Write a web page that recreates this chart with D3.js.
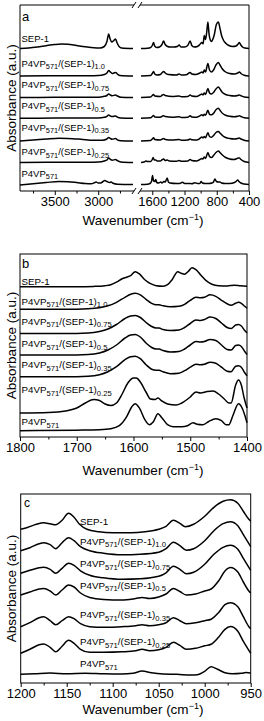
<!DOCTYPE html>
<html><head><meta charset="utf-8">
<script src="https://cdn.jsdelivr.net/npm/d3@7"></script>
<style>
html,body{margin:0;padding:0;background:#fff;}
svg{display:block;font-family:"Liberation Sans",Arial,Helvetica,sans-serif;}
</style>
</head><body><div id="chart"></div>
<script>
// ---------------- DATA ----------------
const seriesRatios = ["SEP-1", "1.0", "0.75", "0.5", "0.35", "0.25", "P4VP"];

// Panel a: vertical stacking offsets (a.u.)
const aOffsets = [142.5, 115, 93.5, 72.7, 50, 28.5, 6.5];
// Panel a, high-wavenumber segment (3900-2600 cm-1)
const aLeft_SEP1 = [[3900,0],[3800,0.5],[3700,1.5],[3600,2.8],[3500,4],[3420,4.5],[3350,4.2],[3250,3],[3150,1.8],[3050,0.8],[2980,0.6],[2930,2],[2900,7],[2880,14.5],[2865,10],[2845,6.5],[2820,8],[2800,9.5],[2785,6],[2760,2],[2730,0.5],[2600,0]];
const aLeft_10 = [[3900,0],[3500,0.3],[3100,0.3],[3000,0.5],[2930,1.5],[2900,3],[2880,5.5],[2860,4],[2840,2.5],[2820,3],[2800,3.5],[2780,2],[2750,0.5],[2600,0]];
const aLeft_075 = [[3900,0],[3500,0.2],[3000,0.3],[2930,1.2],[2900,2],[2880,3.5],[2860,2.5],[2840,1.8],[2800,2.5],[2780,1.5],[2740,0.3],[2600,0]];
const aLeft_05 = [[3900,0],[3500,0.2],[3000,0.3],[2930,1],[2900,2],[2880,3.3],[2860,2.3],[2840,1.7],[2800,2.3],[2780,1.2],[2740,0.3],[2600,0]];
const aLeft_035 = [[3900,0],[3750,1],[3600,2],[3450,2.8],[3350,2.6],[3200,1.8],[3050,0.8],[2950,0.8],[2900,2],[2880,3.5],[2860,2.5],[2840,1.8],[2800,2.5],[2780,1.2],[2740,0.3],[2600,0]];
const aLeft_025 = [[3900,0],[3500,0.3],[3100,0.3],[3000,0.5],[2930,1.5],[2900,2.5],[2880,4.5],[2860,3.2],[2840,2.3],[2800,3],[2780,1.8],[2740,0.5],[2600,0]];
const aLeft_P4VP = [[3900,-0.5],[3750,0.8],[3600,2],[3450,3],[3350,2.8],[3250,2],[3150,1],[3080,0.8],[3050,1.5],[3025,2.5],[3000,1.5],[2970,1.5],[2945,3],[2925,4],[2900,3],[2870,2],[2850,2.5],[2830,1.2],[2780,0.3],[2600,0]];
// Panel a, fingerprint segment (1740-400 cm-1)
const aRight_SEP1 = [[1740,0],[1660,0.3],[1620,1],[1600,3],[1584,6],[1570,2.5],[1545,1],[1510,1.5],[1480,4],[1460,7.5],[1440,4],[1410,2],[1380,1.5],[1330,1.5],[1290,2],[1266,3.5],[1245,1.5],[1200,1.5],[1160,3],[1130,7.5],[1110,3],[1080,1.5],[1040,2],[1010,4],[985,6],[970,4.5],[955,13],[940,9],[925,16],[910,26.5],[895,14],[880,8.5],[866,7],[850,9],[830,14],[805,24],[780,26.5],[760,20],[740,13],[715,8],[685,5],[650,3],[600,2],[560,2.5],[535,4.5],[520,6],[505,4],[480,1.5],[450,0.5],[400,0]];
const aRight_10 = [[1740,0],[1620,0.5],[1600,2.5],[1584,4.5],[1570,2],[1540,1],[1500,1.5],[1475,3.5],[1460,4.5],[1440,3],[1400,1.5],[1300,1],[1266,2],[1240,1],[1180,1.2],[1130,3.5],[1110,2],[1060,1.5],[1010,3],[985,4],[970,3],[955,6],[940,4],[910,12.5],[890,6],[866,4],[840,6],[810,11],[780,13.5],[760,11],[730,7],[690,4],[640,2.5],[580,2],[540,3],[520,4],[500,2.5],[460,0.8],[400,0]];
const aRight_075 = [[1740,0],[1620,0.5],[1600,2],[1584,3],[1570,1.5],[1500,1],[1475,2.5],[1460,3],[1440,2],[1350,1],[1266,1.5],[1240,0.8],[1160,1],[1130,2.5],[1110,1.5],[1050,1],[1010,2.5],[985,3.5],[970,2.5],[955,4.5],[940,3],[910,9],[890,4.5],[866,3.5],[840,5],[810,8.5],[780,10.5],[760,8.5],[730,5],[690,3],[640,2],[580,1.5],[540,2],[520,2.5],[500,1.8],[460,0.5],[400,0]];
const aRight_05 = [[1740,0],[1620,0.5],[1600,1.8],[1584,2.8],[1570,1.3],[1500,1],[1475,2.2],[1460,2.6],[1440,1.8],[1350,1],[1266,1.5],[1240,0.8],[1160,1],[1130,2.5],[1110,1.4],[1050,1],[1010,2.5],[985,3.5],[970,2.5],[955,4],[940,3],[910,8],[890,4],[866,3.5],[840,5],[810,8.5],[780,10],[760,8],[730,5],[690,3],[640,2],[580,1.5],[540,2],[520,2.5],[500,1.8],[460,0.5],[400,0]];
const aRight_035 = [[1740,0],[1620,0.5],[1600,2],[1584,3.2],[1570,1.5],[1500,1],[1475,2],[1460,2.5],[1440,1.6],[1350,1],[1266,1.5],[1240,0.8],[1160,1],[1130,2],[1110,1.2],[1050,1],[1010,2.5],[985,4],[970,3],[955,4.5],[940,3.2],[910,8.3],[890,4.5],[866,3.8],[840,5.5],[810,8.5],[780,9.5],[760,8],[730,5.5],[690,3.5],[640,2.5],[580,2],[540,2.5],[520,3],[500,2],[460,0.8],[400,0]];
const aRight_025 = [[1740,0],[1700,0.5],[1680,1.5],[1660,1],[1620,1],[1600,3],[1590,5],[1575,2.5],[1557,2.5],[1540,1.5],[1500,1.5],[1475,3],[1460,3.5],[1440,2],[1415,2.5],[1390,1.5],[1300,1.2],[1266,2],[1240,1.2],[1160,1.5],[1130,3],[1110,2],[1050,1.5],[1010,3],[985,4],[970,3.5],[955,5.5],[940,4],[910,10],[890,6],[866,5],[840,7],[810,10],[780,11.5],[760,10],[730,7.5],[690,5],[640,3.5],[590,3],[560,3.5],[535,4.5],[520,4.5],[500,3],[460,1],[400,0]];
const aRight_P4VP = [[1740,0],[1660,0.3],[1630,1],[1610,3],[1597,9],[1585,4],[1570,3],[1557,5],[1545,2],[1520,1.5],[1495,2.5],[1480,1.5],[1455,3],[1440,2.5],[1415,6.5],[1400,2.5],[1380,1.5],[1300,1],[1260,1],[1225,2.2],[1200,1],[1140,1],[1110,0.8],[1070,1.8],[1040,1],[1010,1],[993,3],[980,1.5],[940,1],[900,1],[860,1.5],[840,2.5],[822,5.5],[805,3],[780,2.5],[760,2.5],[740,1.5],[700,1],[640,1],[580,2],[555,3.5],[540,4.5],[525,3],[500,1.5],[460,0.5],[400,0]];
const aLeftTicksMajor = [3500, 3000];
const aLeftTicksMinor = [3750, 3250, 2750];
const aRightTicksMajor = [1600, 1200, 800, 400];
const aRightTicksMinor = [1400, 1000, 600];

// Panel b (1800-1400 cm-1)
const bOffsets = [150.3, 127.7, 103.5, 82, 60.3, 24, 6.3];
const b_SEP1 = [[1800,0],[1700,0],[1670,0.3],[1650,1],[1640,2],[1630,4.5],[1620,8],[1612,9.5],[1605,11],[1597,15],[1590,13],[1580,7],[1570,3],[1560,1],[1548,0.5],[1540,2],[1532,7],[1522,15],[1516,13.5],[1510,12.5],[1504,15],[1497,19],[1490,17],[1482,12],[1472,6],[1462,2.5],[1450,1],[1435,0.8],[1422,1.5],[1412,1],[1400,0.5]];
const b_10 = [[1800,0],[1720,0],[1680,0.5],[1660,1.5],[1645,3.5],[1630,7],[1615,12],[1605,15],[1597,16],[1588,14.5],[1578,10],[1568,6],[1560,4.5],[1555,4.5],[1548,3.5],[1535,2.5],[1520,3],[1510,5],[1500,9],[1490,12],[1482,11.5],[1475,12],[1465,14.5],[1455,13],[1445,9],[1435,5.5],[1428,4],[1420,6],[1415,7],[1410,6],[1404,3],[1400,1]];
const b_075 = [[1800,0],[1720,0],[1680,0.5],[1660,2],[1645,4.5],[1630,9],[1615,15],[1605,17.5],[1597,18],[1588,16],[1578,11],[1568,7],[1560,5.5],[1555,5.5],[1548,4],[1535,3],[1520,3.5],[1510,6],[1500,10],[1490,13.5],[1482,13],[1475,14],[1465,16.5],[1455,15],[1445,10.5],[1435,6],[1428,5],[1420,8.5],[1415,9],[1410,7.5],[1404,3],[1400,0.5]];
const b_05 = [[1800,0],[1720,0],[1680,0.5],[1660,2],[1645,5],[1630,10],[1615,17],[1605,20],[1597,20.5],[1588,18],[1578,12],[1568,7.5],[1560,6],[1555,6],[1548,4.5],[1535,3],[1520,3.5],[1510,6],[1500,10],[1490,13.5],[1482,13],[1475,13.5],[1465,15.5],[1455,14.5],[1445,10],[1435,5.5],[1428,5],[1420,9.5],[1415,10],[1410,8.5],[1404,3.5],[1400,0.5]];
const b_035 = [[1800,0],[1720,0],[1680,0.5],[1660,2],[1645,5],[1630,10],[1615,17],[1605,20],[1597,20.5],[1588,18],[1578,12],[1568,7.5],[1560,6.5],[1555,6.5],[1548,5],[1535,3],[1520,3.5],[1510,6],[1500,9.5],[1490,12.5],[1482,12],[1475,12.5],[1465,14.5],[1455,13.5],[1445,9.5],[1435,5.5],[1428,5],[1420,10.5],[1415,11],[1410,9.5],[1404,4],[1400,1]];
const b_025 = [[1800,0],[1750,0.5],[1720,2],[1700,5],[1685,10],[1670,13.5],[1660,12.5],[1650,9],[1640,7.5],[1630,10],[1620,19],[1610,30],[1600,35],[1595,35],[1588,31],[1578,21],[1570,14],[1562,13.5],[1557,15],[1550,12],[1540,9],[1525,8],[1515,10],[1500,16],[1490,21],[1482,20],[1470,21.5],[1460,22],[1450,19],[1440,14],[1432,10],[1428,10],[1420,28],[1415,33],[1410,28],[1405,15],[1400,5]];
const b_P4VP = [[1800,0],[1700,0.5],[1660,1],[1640,2],[1625,5],[1612,14],[1603,24],[1597,27],[1590,23],[1580,11],[1572,6],[1565,9],[1557,17],[1550,13],[1540,6],[1530,4],[1515,4],[1505,5],[1495,8],[1488,6.5],[1478,6],[1468,9],[1455,12],[1445,10],[1437,6],[1432,6],[1425,15],[1415,27],[1408,22],[1402,12],[1400,8]];
const bTicksMajor = [1800, 1700, 1600, 1500, 1400];
const bTicksMinor = [1750, 1650, 1550, 1450];

// Panel c (1200-950 cm-1)
const cOffsets = [153.7, 132.3, 109.7, 88, 56.3, 29.7, 8.7];
const c_SEP1 = [[1200,0],[1192,2],[1183,5],[1175,6.5],[1168,5.5],[1162,4.5],[1155,9],[1148,16],[1142,12],[1136,5],[1128,0],[1115,-2.5],[1100,-3.5],[1080,-3.5],[1065,-2.5],[1050,0],[1042,3],[1034,9],[1027,6],[1021,2.5],[1012,5],[1000,13],[990,22],[980,28],[972,29.5],[964,26],[958,18],[952,10],[950,8]];
const c_10 = [[1200,0],[1190,3],[1180,7],[1175,8],[1168,6],[1162,2],[1155,8],[1148,13],[1142,10],[1135,4],[1125,0],[1110,-2.5],[1090,-4],[1070,-3.5],[1050,-1.5],[1042,2],[1034,8.5],[1027,5],[1020,0.5],[1012,2],[1000,10],[990,20],[980,27],[972,29],[964,25],[958,16],[952,7],[950,4]];
const c_075 = [[1200,0],[1190,3],[1180,5.5],[1175,6],[1168,4],[1162,0],[1155,5],[1148,10],[1142,8],[1135,2.5],[1125,-2],[1110,-4.5],[1090,-6],[1070,-5.5],[1050,-3],[1042,0.5],[1034,7],[1027,4],[1020,-0.5],[1012,1],[1000,9],[990,19],[980,26],[972,28],[964,24],[958,15],[952,6],[950,3]];
const c_05 = [[1200,0],[1190,3],[1180,6],[1175,6.5],[1168,4],[1162,0],[1155,5],[1148,10],[1142,8],[1135,2],[1125,-2.5],[1110,-4.5],[1090,-5],[1075,-3.5],[1068,-2.5],[1060,-3.5],[1050,-2],[1042,1],[1034,6.5],[1027,3.5],[1020,0],[1010,1],[1000,4],[993,6],[985,14],[978,24],[972,27.5],[964,23],[958,13],[952,4],[950,2]];
const c_035 = [[1200,0],[1190,4],[1180,9],[1175,10],[1168,6],[1162,2],[1155,6],[1148,10],[1142,8],[1135,3],[1125,0],[1110,-0.5],[1090,0],[1075,1],[1068,2],[1060,1],[1050,2],[1042,4],[1034,9],[1027,6],[1020,3],[1010,4],[1000,6],[993,7.5],[985,14],[978,22],[972,24],[964,20],[958,10],[952,0],[950,-2]];
const c_025 = [[1200,0],[1190,4],[1180,8.5],[1175,9.3],[1168,6],[1162,1.5],[1155,7],[1148,13],[1142,10],[1135,4],[1125,1],[1110,1],[1090,1.5],[1075,2.5],[1068,4],[1060,2.5],[1050,3.5],[1042,6],[1034,11],[1027,8],[1020,4],[1010,5],[1000,7.5],[993,9],[985,16],[978,24],[972,26.7],[964,22],[958,12],[952,3],[950,0]];
const c_P4VP = [[1200,0],[1185,0.5],[1168,1.2],[1150,0.5],[1130,1],[1110,0.5],[1090,0.3],[1078,1],[1068,3.3],[1058,1.5],[1045,0.3],[1030,0],[1015,-0.8],[1008,-0.5],[1000,3],[993,7.5],[986,5],[978,1.5],[970,0.5],[960,1],[955,1.8],[950,1.2]];
const cTicksMajor = [1200, 1150, 1100, 1050, 1000, 950];
const cTicksMinor = [1175, 1125, 1075, 1025, 975];

// ---------------- DRAWING ----------------
const W = 264, H = 721;
const svg = d3.select("#chart").append("svg").attr("width", W).attr("height", H);
const FONT_AX = 13;

function addLabel(g, x, y, idx, fs) {
  const r = seriesRatios[idx];
  const t = g.append("text").attr("x", x).attr("y", y).attr("font-size", fs).attr("fill", "#000");
  if (r === "SEP-1") { t.text("SEP-1"); return; }
  const sub = fs * 0.78, sh = fs * 0.3;
  t.append("tspan").text("P4VP");
  t.append("tspan").attr("font-size", sub).attr("dy", sh).text("571");
  if (r !== "P4VP") {
    t.append("tspan").attr("dy", -sh).text("/(SEP-1)");
    t.append("tspan").attr("font-size", sub).attr("dy", sh).text(r);
  }
}

function xTitle(y) {
  const t = svg.append("text").attr("x", 143).attr("y", y).attr("text-anchor", "middle")
    .attr("font-size", FONT_AX + 0.5).attr("fill", "#000");
  t.append("tspan").text("Wavenumber (cm");
  t.append("tspan").attr("font-size", 9).attr("dy", -5).text("\u22121");
  t.append("tspan").attr("dy", 5).text(")");
}
function yTitle(cy) {
  svg.append("text").attr("transform", `translate(11,${cy}) rotate(-90)`)
    .attr("text-anchor", "middle").attr("dy", "0.35em").attr("font-size", FONT_AX + 0.5)
    .attr("fill", "#000").text("Absorbance (a.u.)");
}
function drawAxis(y0, scale, major, minor, showLabels) {
  const gM = svg.append("g").attr("transform", `translate(0,${y0})`)
    .call(d3.axisBottom(scale).tickValues(major).tickSize(4).tickSizeOuter(0).tickPadding(2)
      .tickFormat(showLabels ? d3.format("d") : ""));
  gM.select(".domain").remove();
  gM.selectAll("text").attr("font-size", FONT_AX).attr("font-family", "Liberation Sans, Arial, sans-serif").attr("fill", "#000");
  gM.selectAll("line").attr("stroke", "#000");
  const gm = svg.append("g").attr("transform", `translate(0,${y0})`)
    .call(d3.axisBottom(scale).tickValues(minor).tickSize(2.5).tickSizeOuter(0).tickFormat(""));
  gm.select(".domain").remove();
  gm.selectAll("line").attr("stroke", "#000");
}
function drawSeries(g, data, xs, ys, off) {
  const line = d3.line().x(d => xs(d[0])).y(d => ys(off + d[1])).curve(d3.curveMonotoneX);
  g.append("path").attr("d", line(data)).attr("fill", "none").attr("stroke", "#000")
    .attr("stroke-width", 1.5).attr("stroke-linejoin", "round");
}

// ---- Panel a ----
{
  const top = 5, bot = 191, L = 20, R = 249, b1 = 134, b2 = 140;
  const xl = d3.scaleLinear().domain([3900, 2600]).range([L, 133]);
  const xr = d3.scaleLinear().domain([1740, 400]).range([141, R]);
  const y = d3.scaleLinear().domain([0, 186]).range([bot, top]);
  const g = svg.append("g");
  const lefts = [aLeft_SEP1, aLeft_10, aLeft_075, aLeft_05, aLeft_035, aLeft_025, aLeft_P4VP];
  const rights = [aRight_SEP1, aRight_10, aRight_075, aRight_05, aRight_035, aRight_025, aRight_P4VP];
  lefts.forEach((d, i) => drawSeries(g, d, xl, y, aOffsets[i]));
  rights.forEach((d, i) => drawSeries(g, d, xr, y, aOffsets[i]));
  const fr = svg.append("g").attr("stroke", "#000").attr("stroke-width", 1).attr("fill", "none");
  fr.append("path").attr("d", `M${b1},${top}H${L}V${bot}H${b1}`);
  fr.append("path").attr("d", `M${b2},${top}H${R}V${bot}H${b2}`);
  [top, bot].forEach(yy => {
    fr.append("line").attr("x1", b1 - 2).attr("y1", yy + 3).attr("x2", b1 + 2).attr("y2", yy - 3);
    fr.append("line").attr("x1", b2 - 2).attr("y1", yy + 3).attr("x2", b2 + 2).attr("y2", yy - 3);
  });
  drawAxis(bot, xl, aLeftTicksMajor, aLeftTicksMinor, true);
  drawAxis(bot, xr, aRightTicksMajor, aRightTicksMinor, true);
  svg.append("text").attr("x", 22).attr("y", 21).attr("font-size", 13).text("a");
  const ly = [42, 66.5, 88, 109, 130.5, 155, 176.5];
  ly.forEach((yy, i) => addLabel(svg, 21.5, yy, i, 9.5));
  yTitle((top + bot) / 2);
  xTitle(225);
}

// ---- Panel b ----
{
  const top = 254, bot = 437, L = 20, R = 247;
  const x = d3.scaleLinear().domain([1800, 1400]).range([L, R]);
  const y = d3.scaleLinear().domain([0, 183]).range([bot, top]);
  const g = svg.append("g");
  [b_SEP1, b_10, b_075, b_05, b_035, b_025, b_P4VP].forEach((d, i) => drawSeries(g, d, x, y, bOffsets[i]));
  svg.append("rect").attr("x", L).attr("y", top).attr("width", R - L).attr("height", bot - top)
    .attr("fill", "none").attr("stroke", "#000").attr("stroke-width", 1);
  drawAxis(bot, x, bTicksMajor, bTicksMinor, true);
  svg.append("text").attr("x", 22).attr("y", 268).attr("font-size", 13).text("b");
  const ly = [285, 304.5, 324.5, 347, 368, 393, 425];
  ly.forEach((yy, i) => addLabel(svg, 21.5, yy, i, 9.8));
  yTitle((top + bot) / 2);
  xTitle(475);
}

// ---- Panel c ----
{
  const top = 494, bot = 683, L = 20.7, R = 250.7;
  const x = d3.scaleLinear().domain([1200, 950]).range([L, R]);
  const y = d3.scaleLinear().domain([0, 189]).range([bot, top]);
  const g = svg.append("g");
  [c_SEP1, c_10, c_075, c_05, c_035, c_025, c_P4VP].forEach((d, i) => drawSeries(g, d, x, y, cOffsets[i]));
  svg.append("rect").attr("x", L).attr("y", top).attr("width", R - L).attr("height", bot - top)
    .attr("fill", "none").attr("stroke", "#000").attr("stroke-width", 1);
  drawAxis(bot, x, cTicksMajor, cTicksMinor, true);
  svg.append("text").attr("x", 24).attr("y", 507).attr("font-size", 12).text("c");
  const ly = [525, 544.5, 567, 588.5, 618, 645, 667];
  ly.forEach((yy, i) => addLabel(svg, 80, yy, i, 9.8));
  yTitle((top + bot) / 2);
  xTitle(714);
}
</script>
</body></html>
